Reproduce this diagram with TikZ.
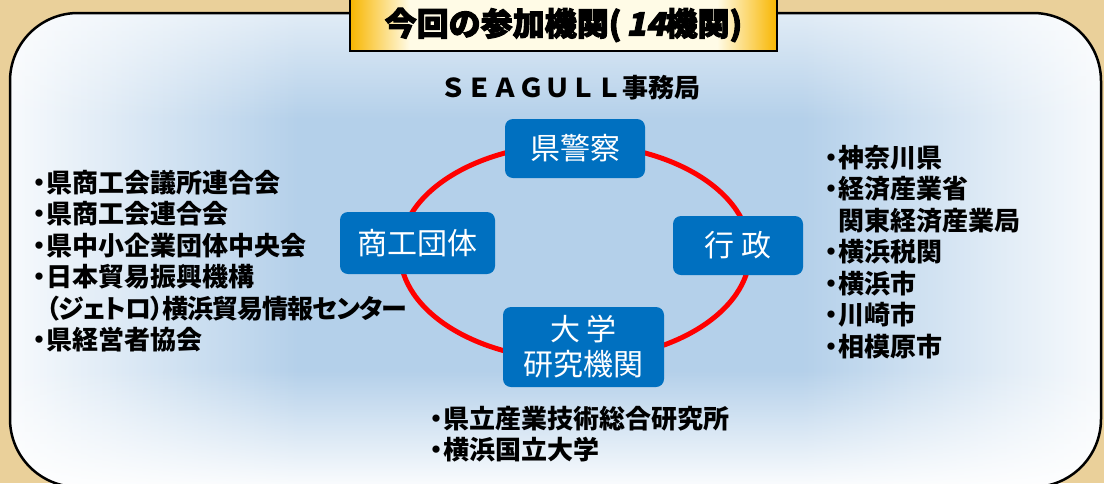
\documentclass[tikz,border=0pt]{standalone}
\usepackage{fontspec}
\usetikzlibrary{fadings}
\newfontfamily\jp{Noto Sans CJK JP}
\newfontfamily\jplist{Noto Sans CJK JP}[RawFeature=+palt]
\newfontfamily\jpheavy{Noto Sans CJK JP}[BoldFeatures={FakeBold=3}]
\definecolor{parchment}{HTML}{EAD09A}
\definecolor{skyfill}{HTML}{B4D0EA}
\definecolor{boxblue}{HTML}{0070C0}
\definecolor{ringred}{HTML}{FF0000}
\definecolor{gold}{HTML}{F8B600}
\definecolor{cream}{HTML}{FFFBE6}
\pgfdeclarehorizontalshading{titlebar}{100bp}{color(0bp)=(gold); color(25bp)=(gold); color(32bp)=(cream); color(68bp)=(cream); color(75bp)=(gold); color(100bp)=(gold)}
\tikzset{
  unit/.style={fill=boxblue, rounded corners=8pt, text=white, align=center, inner sep=0pt,
    font=\jp\fontsize{30}{35}\selectfont},
  members/.style={anchor=north west, align=left, inner sep=0pt,
    font=\jplist\bfseries\fontsize{26}{31.5}\selectfont},
  titlebox/.style={draw, line width=2pt, shading=titlebar, inner sep=0pt,
    minimum width=427pt, minimum height=52pt, font=\jpheavy\bfseries\fontsize{32}{32}\selectfont},
  ring/.style={draw=ringred, line width=5pt},
}
\newcommand{\indt}{\phantom{・}}
\newcommand{\tight}{\addfontfeature{LetterSpace=-4}}

\begin{document}
\begin{tikzpicture}[x=1pt, y=-1pt]
\useasboundingbox (0,0) rectangle (1104,483);
    % parchment and panel
    \fill[parchment] (0,0) rectangle (1104,483);
    \begin{scope}
        \clip[rounded corners=68pt] (10,13) rectangle (1101,487);
        \fill[skyfill] (10,13) rectangle (1101,487);
        \fill[white, opacity=0.9, path fading=east] (10,13) rectangle (300,487);
        \fill[white, opacity=0.9, path fading=west] (800,13) rectangle (1101,487);
        \fill[white, opacity=0.6, path fading=south] (10,13) rectangle (1101,120);
        \fill[white, opacity=0.95, path fading=north] (10,370) rectangle (1101,487);
    \end{scope}
    \draw[line width=2.5pt, rounded corners=68pt] (10,13) rectangle (1101,487);
    \node[titlebox] (title) at (563.5,25) {今回の参加機関(\hspace{5pt}{\addfontfeature{FakeSlant=0.2}14}機関)};
    \node[font=\jp\bfseries\fontsize{26}{26}\selectfont] (office) at (570,88) {ＳＥＡＧＵＬＬ事務局};
    % ring of the four groups
    \coordinate (hub) at (575,252);
    \draw[ring] (hub) ellipse [x radius=175, y radius=108];
    \node[unit, minimum width=140pt, minimum height=59pt] (police) at (575,148.5) {県警察};
    \node[unit, minimum width=130pt, minimum height=59pt] (admin) at (738,245.5) {行 政};
    \node[unit, minimum width=161pt, minimum height=80pt] (academia) at (583.5,347) {大 学\\研究機関};
    \node[unit, minimum width=155pt, minimum height=62pt] (commerce) at (417.5,243) {商工団体};
    % member lists
    \node[members] (commerceList) at (33,170) {・県商工会議所連合会\\・県商工会連合会\\・県中小企業団体中央会\\・日本貿易振興機構\\\indt{\tight（ジェトロ）横浜貿易情報センター}\\・県経営者協会};
    \node[members] (adminList) at (825,145) {・神奈川県\\・経済産業省\\\indt 関東経済産業局\\・横浜税関\\・横浜市\\・川崎市\\・相模原市};
    \node[members] (academiaList) at (430,406) {・県立産業技術総合研究所\\・横浜国立大学};
\end{tikzpicture}
\end{document}
